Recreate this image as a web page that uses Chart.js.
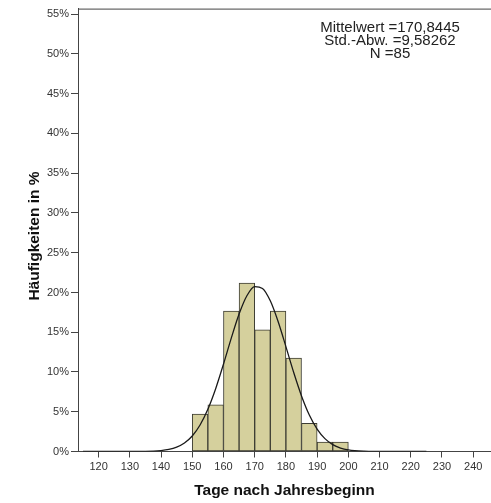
<!DOCTYPE html>
<html>
<head>
<meta charset="utf-8">
<script src="https://cdn.jsdelivr.net/npm/chart.js@4/dist/chart.umd.min.js"></script>
<style>
  html, body { margin: 0; padding: 0; background: #fff; }
  canvas { display: block; }
</style>
</head>
<body>
<canvas id="hist" width="491" height="503"></canvas>
<script>
// bin centres (width 5 days) and share of cases in %
const binCenters = [152.5, 157.5, 162.5, 167.5, 172.5, 177.5, 182.5, 187.5, 192.5, 197.5];
const binPercent = [4.71, 5.88, 17.65, 21.18, 15.29, 17.65, 11.76, 3.53, 1.18, 1.18];

// fitted normal curve
const curveX = [115, 120, 125, 130, 135, 140, 142.5, 145, 147.5, 150, 152.5, 155, 157.5, 160, 162.5, 165, 167.5, 170,
                172.5, 175, 177.5, 180, 182.5, 185, 187.5, 190, 192.5, 195, 197.5, 200, 205, 210, 215, 220, 225];
const curveY = [0, 0, 0, 0.01, 0.02, 0.12, 0.26, 0.55, 1.07, 1.95, 3.33, 5.31, 7.9, 10.98, 14.26, 17.29, 19.59, 20.74,
                20.51, 18.95, 16.35, 13.19, 9.93, 6.99, 4.59, 2.82, 1.62, 0.87, 0.43, 0.2, 0.04, 0.01, 0, 0, 0];

const xTicks = [120, 130, 140, 150, 160, 170, 180, 190, 200, 210, 220, 230, 240];
const yTicks = [0, 5, 10, 15, 20, 25, 30, 35, 40, 45, 50, 55];

const statLines = ['Mittelwert =170,8445', 'Std.-Abw. =9,58262', 'N =85'];

const FONT = '"Liberation Sans", Arial, sans-serif';

const decorations = {
    id: 'decorations',
    beforeDraw(chart) {
        const c = chart.ctx;
        c.save();
        c.fillStyle = '#fff';
        c.fillRect(0, 0, chart.width, chart.height);
        c.restore();
    },
    afterDraw(chart) {
        const c = chart.ctx;
        const a = chart.chartArea;
        c.save();
        // top frame line
        c.strokeStyle = '#444';
        c.lineWidth = 1;
        c.beginPath();
        c.moveTo(a.left, a.top + 0.5);
        c.lineTo(a.right, a.top + 0.5);
        c.stroke();

        // stats box
        c.fillStyle = '#222';
        c.font = '15px ' + FONT;
        c.textAlign = 'center';
        c.textBaseline = 'middle';
        statLines.forEach((t, i) => c.fillText(t, 390, 28 + i * 13));

        // axis titles
        c.font = 'bold 15.5px ' + FONT;
        c.fillStyle = '#111';
        c.fillText('Tage nach Jahresbeginn', (a.left + a.right) / 2, 491);
        c.translate(35, 236);
        c.rotate(-Math.PI / 2);
        c.fillText('Häufigkeiten in %', 0, 0);
        c.restore();
    }
};

new Chart(document.getElementById('hist'), {
    type: 'bar',
    data: {
        datasets: [
            {
                type: 'line',
                data: curveX.map((x, i) => ({ x, y: curveY[i] })),
                borderColor: '#1a1a1a',
                borderWidth: 1.3,
                pointRadius: 0,
                cubicInterpolationMode: 'monotone',
                fill: false,
                order: 0
            },
            {
                type: 'bar',
                data: binCenters.map((x, i) => ({ x, y: binPercent[i] })),
                backgroundColor: '#d5d09d',
                borderColor: '#3d3d33',
                borderWidth: 1,
                borderSkipped: false,
                barPercentage: 1,
                categoryPercentage: 1,
                order: 1
            }
        ]
    },
    options: {
        responsive: false,
        animation: false,
        devicePixelRatio: 1,
        layout: { padding: { top: 6, right: 0, left: 0, bottom: 0 } },
        plugins: { legend: { display: false }, tooltip: { enabled: false } },
        scales: {
            x: {
                type: 'linear',
                min: 113.4,
                max: 245.7,
                offset: false,
                afterFit(s) { s.height = 51.5; },
                afterBuildTicks(s) { s.ticks = xTicks.map(v => ({ value: v })); },
                grid: { offset: false, drawOnChartArea: false, drawTicks: true, tickLength: 6, color: '#444' },
                border: { display: true, color: '#444', width: 1 },
                ticks: { color: '#333', font: { family: FONT, size: 11 }, padding: 3, maxRotation: 0, autoSkip: false }
            },
            y: {
                type: 'linear',
                min: 0,
                max: 55.7,
                afterFit(s) { s.width = 78; },
                afterBuildTicks(s) { s.ticks = yTicks.map(v => ({ value: v })); },
                grid: { offset: false, drawOnChartArea: false, drawTicks: true, tickLength: 7, color: '#444' },
                border: { display: true, color: '#444', width: 1 },
                ticks: { color: '#333', font: { family: FONT, size: 11 }, padding: 2, callback: v => v + '%' }
            }
        }
    },
    plugins: [decorations]
});
</script>
</body>
</html>
